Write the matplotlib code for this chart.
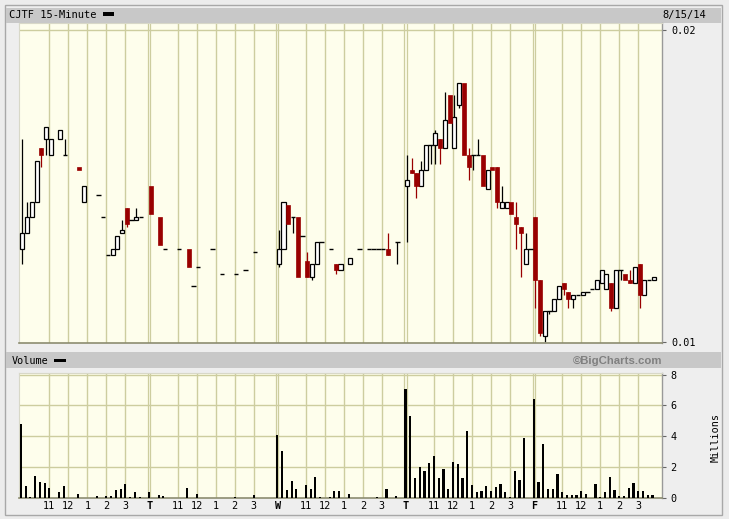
import matplotlib
matplotlib.use('Agg')
import matplotlib.pyplot as plt
from matplotlib.patches import Rectangle
import numpy as np

# ---------------- data ----------------
title = 'CJTF 15-Minute'
date_text = '8/15/14'
bars_per_day = 27
hour_labels = ['11', '12', '1', '2', '3']
hour_bar = [6, 10, 14, 18, 22]
day_labels = ['T', 'W', 'T', 'F']
price_ticks = [0.01, 0.02]
vol_ticks = [0, 2, 4, 6, 8]

bar_idx = [0, 1, 2, 3, 4, 5, 6, 8, 9, 12, 13, 16, 17, 18, 19, 20, 21, 22, 23, 24, 25,
           27, 29, 30, 33, 35, 36, 37, 40, 42, 45, 47, 49,
           54, 55, 56, 57, 58, 59, 60, 61, 62, 63, 65, 66, 67, 69, 71, 73, 74, 75, 76, 77, 79,
           81, 82, 83, 84, 85, 86, 87, 88, 89, 90, 91, 92, 93, 94, 95, 96, 97, 98, 99, 100,
           101, 102, 103, 104, 105, 106, 107,
           108, 109, 110, 111, 112, 113, 114, 115, 116, 117, 118, 119, 120, 121, 122, 123,
           124, 125, 126, 127, 128, 129, 130, 131, 132, 133]

opens = [.0130, .0135, .0140, .0145, .0162, .0165, .0160, .0165, .0160, .0156, .0145, .0147, .0140, .0128, .0128, .0130, .0135, .0143, .0139, .0139, .0140,
         .0150, .0140, .0130, .0130, .0130, .0118, .0124, .0130, .0122, .0122, .0123, .0129,
         .0125, .0130, .0144, .0140, .0140, .0134, .0126, .0121, .0125, .0132, .0130, .0125, .0123, .0125, .0130, .0130, .0130, .0130, .0130, .0130, .0132,
         .0150, .0155, .0154, .0150, .0155, .0163, .0163, .0165, .0162, .0179, .0162, .0176, .0183, .0160, .0160, .0160, .0160, .0149, .0156, .0156,
         .0143, .0143, .0145, .0140, .0137, .0125, .0130,
         .0140, .0120, .0102, .0110, .0110, .0114, .0119, .0116, .0114, .0115, .0115, .0116, .0117, .0117, .0119, .0117,
         .0119, .0111, .0123, .0122, .0120, .0119, .0125, .0115, .0120, .0120]

highs = [.0165, .0145, .0145, .0158, .0162, .0169, .0165, .0168, .0165, .0156, .0150, .0147, .0140, .0128, .0130, .0134, .0139, .0143, .0139, .0143, .0140,
         .0150, .0140, .0130, .0130, .0130, .0118, .0124, .0130, .0122, .0122, .0123, .0129,
         .0136, .0145, .0144, .0140, .0140, .0134, .0129, .0125, .0132, .0132, .0130, .0125, .0125, .0127, .0130, .0130, .0130, .0130, .0130, .0135, .0132,
         .0160, .0159, .0154, .0158, .0163, .0163, .0168, .0165, .0180, .0179, .0179, .0183, .0183, .0162, .0160, .0165, .0160, .0155, .0156, .0156,
         .0150, .0145, .0145, .0145, .0137, .0135, .0130,
         .0140, .0120, .0110, .0110, .0114, .0118, .0119, .0116, .0115, .0115, .0116, .0116, .0117, .0120, .0123, .0122,
         .0119, .0123, .0123, .0122, .0123, .0124, .0125, .0120, .0120, .0121]

lows = [.0125, .0135, .0140, .0145, .0156, .0160, .0160, .0165, .0160, .0155, .0145, .0147, .0140, .0128, .0128, .0130, .0135, .0137, .0139, .0139, .0140,
        .0141, .0131, .0130, .0130, .0124, .0118, .0124, .0130, .0122, .0122, .0123, .0129,
        .0124, .0130, .0138, .0135, .0121, .0134, .0121, .0120, .0125, .0132, .0130, .0122, .0123, .0125, .0130, .0130, .0130, .0130, .0130, .0128, .0125,
        .0132, .0154, .0146, .0150, .0155, .0157, .0157, .0157, .0162, .0170, .0162, .0175, .0160, .0152, .0155, .0160, .0150, .0149, .0155, .0143,
        .0143, .0143, .0141, .0130, .0121, .0125, .0130,
        .0111, .0102, .0100, .0109, .0110, .0114, .0115, .0111, .0111, .0115, .0115, .0116, .0117, .0117, .0119, .0117,
        .0110, .0111, .0120, .0120, .0119, .0119, .0111, .0115, .0120, .0120]

closes = [.0135, .0140, .0145, .0158, .0160, .0169, .0165, .0168, .0160, .0155, .0150, .0147, .0140, .0128, .0130, .0134, .0136, .0138, .0139, .0140, .0140,
          .0141, .0131, .0130, .0130, .0124, .0118, .0124, .0130, .0122, .0122, .0123, .0129,
          .0130, .0145, .0138, .0140, .0121, .0134, .0121, .0125, .0132, .0132, .0130, .0123, .0125, .0127, .0130, .0130, .0130, .0130, .0130, .0128, .0132,
          .0152, .0154, .0150, .0155, .0163, .0163, .0167, .0162, .0171, .0170, .0172, .0183, .0160, .0156, .0160, .0160, .0150, .0155, .0155, .0145,
          .0145, .0145, .0141, .0138, .0135, .0130, .0130,
          .0120, .0103, .0110, .0110, .0114, .0118, .0117, .0114, .0115, .0115, .0116, .0116, .0117, .0120, .0123, .0122,
          .0111, .0123, .0123, .0120, .0119, .0124, .0115, .0120, .0120, .0121]

volumes = [4.79, 0.76, 0.07, 1.41, 1.02, 0.95, 0.63, 0.37, 0.76, 0.24, 0.01, 0.11, 0.01, 0.11, 0.13, 0.50, 0.56, 0.89, 0.07, 0.37, 0.07,
           0.37, 0.17, 0.11, 0.01, 0.63, 0.01, 0.24, 0.01, 0.01, 0.04, 0.01, 0.17,
           4.08, 3.04, 0.50, 1.08, 0.56, 0.01, 0.82, 0.56, 1.34, 0.07, 0.04, 0.43, 0.43, 0.24, 0.01, 0.01, 0.01, 0.04, 0.01, 0.59, 0.11,
           7.09, 5.33, 1.28, 2.00, 1.74, 2.26, 2.72, 1.28, 1.87, 0.57, 2.33, 2.20, 1.28, 4.35, 0.83, 0.37, 0.43, 0.76, 0.43, 0.70,
           0.89, 0.37, 0.04, 1.74, 1.15, 3.89, 0.01,
           6.43, 1.02, 3.50, 0.57, 0.57, 1.54, 0.37, 0.17, 0.17, 0.17, 0.43, 0.24, 0.01, 0.89, 0.04, 0.37,
           1.35, 0.50, 0.11, 0.11, 0.63, 0.96, 0.43, 0.43, 0.22, 0.17]

# ---------------- style ----------------
W, H = 729, 519
BG = '#fefeec'
GRID = '#cdcd9f'
RED = '#990000'
BAND = '#c8c8c8'
FIGBG = '#ececec'
MONO = 'DejaVu Sans Mono'
n_days = 5

def fx(px):
    return px / W

def fy(py):
    return 1 - py / H

fig = plt.figure(figsize=(W / 100, H / 100), dpi=100, facecolor=FIGBG)

# frame and header bands
fig.patches.append(Rectangle((fx(5), fy(515)), fx(717), (515 - 5) / H, transform=fig.transFigure,
                             facecolor='#eeeeee', edgecolor='#a8a8a8', lw=1.0, zorder=-5))
fig.patches.append(Rectangle((fx(6), fy(23)), fx(715), 15 / H, transform=fig.transFigure,
                             facecolor=BAND, edgecolor='none', zorder=-4))
fig.patches.append(Rectangle((fx(6), fy(368)), fx(715), 16 / H, transform=fig.transFigure,
                             facecolor=BAND, edgecolor='none', zorder=-4))

ax_p = fig.add_axes([fx(19), fy(343), fx(662 - 19), (343 - 23) / H])
ax_v = fig.add_axes([fx(19), fy(498), fx(662 - 19), (498 - 373) / H])

xlim = (-0.7, 134.7)
for ax in (ax_p, ax_v):
    ax.set_facecolor(BG)
    ax.set_xlim(*xlim)
    for d in range(n_days):
        base = d * bars_per_day
        for hb in hour_bar:
            ax.axvline(base + hb - 0.3, color=GRID, lw=1.0, zorder=0)
        if d > 0:
            ax.axvline(base - 0.55, color=GRID, lw=0.9, zorder=0)
            ax.axvline(base - 0.1, color=GRID, lw=0.9, zorder=0)
    for s in ('top', 'left'):
        ax.spines[s].set_color('#d8d8c8')
        ax.spines[s].set_linewidth(0.8)
    ax.spines['right'].set_color('#999999')
    ax.spines['right'].set_linewidth(1.0)
    ax.spines['bottom'].set_color('#8c8c70')
    ax.spines['bottom'].set_linewidth(1.2)

# ---------------- price panel ----------------
ax_p.set_ylim(0.00998, 0.02021)
ax_p.axhline(0.02, color=GRID, lw=1.0, zorder=0)
bw = 0.85
idx = np.array(bar_idx, dtype=float)
o = np.array(opens); h = np.array(highs); l = np.array(lows); c = np.array(closes)
up = c > o
down = c < o
flat = c == o

wick_col = np.where(down, RED, 'black')
has_wick = (h > np.maximum(o, c)) | (l < np.minimum(o, c))
ax_p.vlines(idx[has_wick], l[has_wick], h[has_wick], colors=wick_col[has_wick], lw=0.9, zorder=2)
ax_p.bar(idx[up], (c - o)[up], bottom=o[up], width=bw, facecolor='#ffffff', edgecolor='black', lw=0.9, zorder=3)
ax_p.bar(idx[down], (o - c)[down], bottom=c[down], width=bw, facecolor=RED, edgecolor=RED, lw=0.5, zorder=3)
ax_p.hlines(o[flat], idx[flat] - bw / 2 - 0.05, idx[flat] + bw / 2 + 0.05, colors='black', lw=1.0, zorder=3)

ax_p.yaxis.tick_right()
ax_p.set_yticks(price_ticks)
ax_p.set_yticklabels(['%.2f' % t for t in price_ticks], family=MONO, fontsize=7.3)
ax_p.tick_params(axis='y', length=3, width=0.8, color='#666666', pad=4)
ax_p.set_xticks([])

# ---------------- volume panel ----------------
ax_v.set_ylim(0, 8.1)
for t in vol_ticks[1:]:
    ax_v.axhline(t, color=GRID, lw=1.0, zorder=0)
ax_v.bar(idx - 0.3, volumes, width=0.45, color='black', zorder=3)
ax_v.yaxis.tick_right()
ax_v.set_yticks(vol_ticks)
ax_v.set_yticklabels([str(t) for t in vol_ticks], family=MONO, fontsize=7.3)
ax_v.tick_params(axis='y', length=3, width=0.8, color='#666666', pad=3)

xt, xl, bold = [], [], []
for d in range(n_days):
    base = d * bars_per_day
    if d > 0:
        xt.append(base - 0.2); xl.append(day_labels[d - 1]); bold.append(True)
    for hb, lab in zip(hour_bar, hour_labels):
        xt.append(base + hb - 0.3); xl.append(lab); bold.append(False)
ax_v.set_xticks(xt)
ax_v.set_xticklabels(xl, family=MONO, fontsize=7.3)
for tl, b in zip(ax_v.get_xticklabels(), bold):
    if b:
        tl.set_fontweight('bold')
ax_v.tick_params(axis='x', length=0, pad=2.5)

# ---------------- texts ----------------
fig.text(fx(9), fy(15), title, family=MONO, fontsize=7.5, va='center', ha='left')
fig.patches.append(Rectangle((fx(103), fy(15.5)), fx(11), 3 / H, transform=fig.transFigure,
                             facecolor='black', edgecolor='none'))
fig.text(fx(706), fy(15), date_text, family=MONO, fontsize=7.5, va='center', ha='right')
fig.text(fx(12), fy(360.5), 'Volume', family=MONO, fontsize=7.3, va='center', ha='left')
fig.patches.append(Rectangle((fx(54), fy(362)), fx(12), 3 / H, transform=fig.transFigure,
                             facecolor='black', edgecolor='none'))
fig.text(fx(662), fy(360.5), '\u00a9BigCharts.com', family='Liberation Sans', fontweight='bold',
         fontsize=8.2, color='#808080', va='center', ha='right')
fig.text(fx(716), fy(437), 'Millions', family=MONO, fontsize=7.3, rotation=90, va='center', ha='center')

fig.savefig('out.png', dpi=100, facecolor=FIGBG)
